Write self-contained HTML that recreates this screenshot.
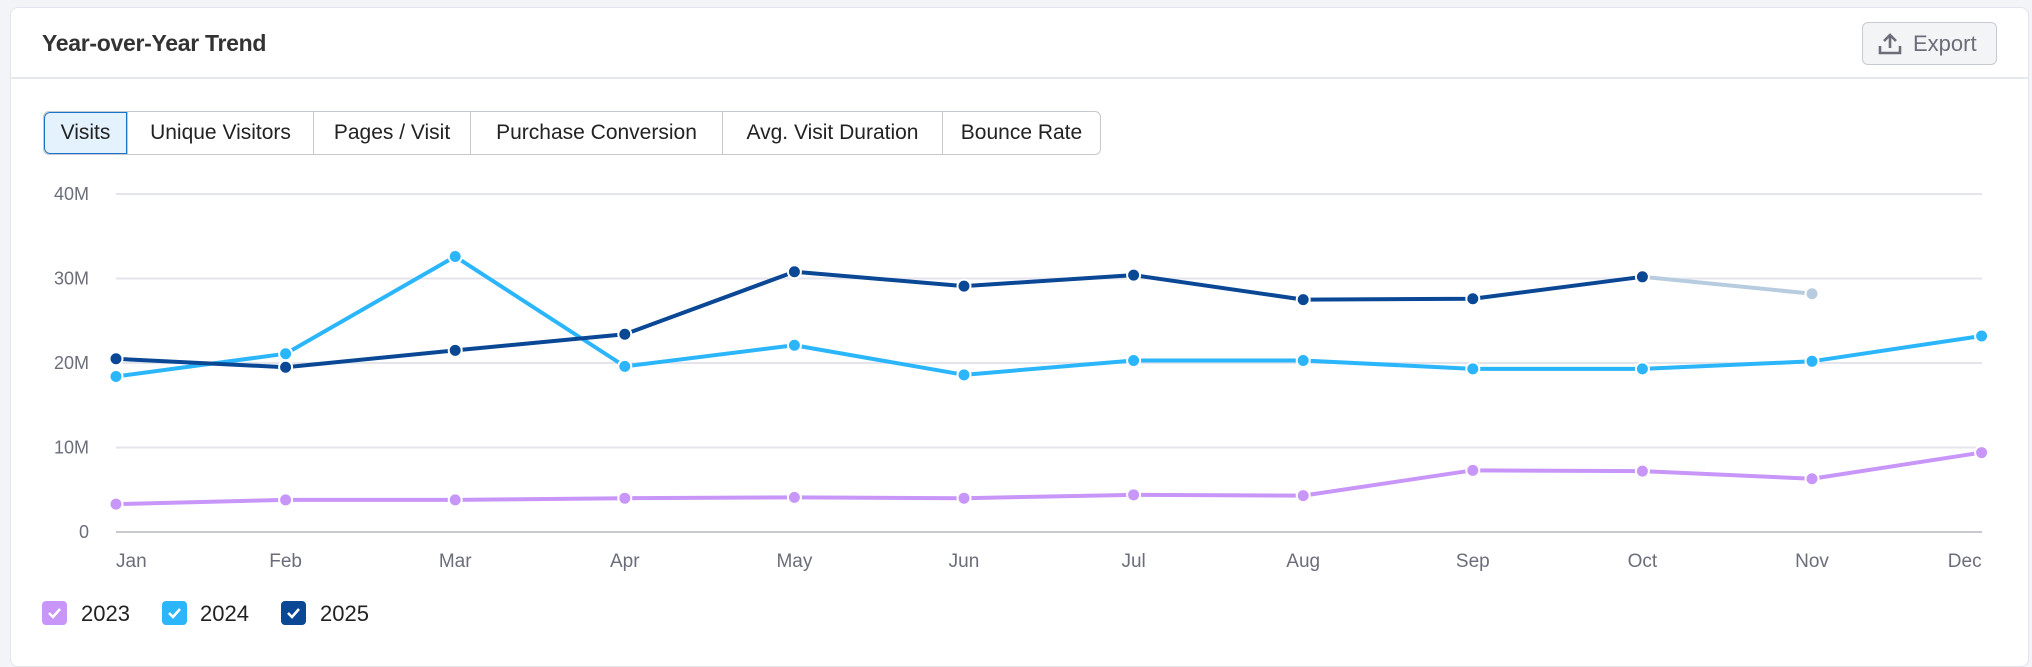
<!DOCTYPE html>
<html><head><meta charset="utf-8"><style>
*{box-sizing:border-box;margin:0;padding:0}
body{width:2032px;height:652px;background:#f3f4f8;font-family:"Liberation Sans",sans-serif;position:relative;overflow:hidden}
.card{position:absolute;left:10px;top:7px;width:2019px;height:660px;background:#fff;border:1px solid #e3e5ec;border-radius:8px}
.title{position:absolute;left:42px;top:30px;font-size:23px;font-weight:bold;color:#333;letter-spacing:-0.3px}
.div{position:absolute;left:10px;top:77px;width:2019px;height:2px;background:#e6e8ef}
.export{position:absolute;left:1862px;top:22px;width:135px;height:43px;border:1px solid #c8cad2;border-radius:6px;background:#f3f4f6;color:#6b6e7a;font-size:22px;line-height:41px;padding-left:50px}
.tabs{position:absolute;left:43px;top:111px;height:44px;display:flex;border:1px solid #c6c9d2;border-radius:6px;overflow:hidden}
.tabs div{height:42px;line-height:42px;font-size:21px;color:#222;text-align:center;border-left:1px solid #c6c9d2}
.tabs div:first-child{border-left:none;background:#e3f2fd;outline:1px solid #1a73c8;outline-offset:-1px;border-radius:6px 0 0 6px}
svg{position:absolute;left:0;top:0}
</style></head><body>
<div class="card"></div>
<div class="title">Year-over-Year Trend</div>
<div class="div"></div>
<div class="export"><svg width="26" height="24" viewBox="0 0 26 24" style="left:14px;top:9px"><path d="M13 3v13M7 9l6-6 6 6M3 14v7h20v-7" fill="none" stroke="#6b6e7a" stroke-width="2.6"/></svg>Export</div>
<div class="tabs">
<div style="width:83px">Visits</div><div style="width:186px">Unique Visitors</div><div style="width:157px">Pages / Visit</div><div style="width:252px">Purchase Conversion</div><div style="width:220px">Avg. Visit Duration</div><div style="width:158px">Bounce Rate</div>
</div>
<svg id="c" width="2032" height="652"></svg>
<script>
var s='',X=function(i){return 116+i*169.6},Y=function(v){return 532-v*8.45};
var ax=['0','10M','20M','30M','40M'];
for(var k=0;k<5;k++){var y=Y(k*10);s+='<line x1="116" x2="1982" y1="'+y+'" y2="'+y+'" stroke="'+(k?'#e4e5ec':'#c8cad0')+'" stroke-width="2"/>';s+='<text x="89" y="'+(y+6)+'" text-anchor="end" font-size="18" fill="#6b6e7a">'+ax[k]+'</text>';}
var m=['Jan','Feb','Mar','Apr','May','Jun','Jul','Aug','Sep','Oct','Nov','Dec'];
m.forEach(function(t,i){var a=i==0?'start':(i==11?'end':'middle');s+='<text x="'+X(i)+'" y="567" text-anchor="'+a+'" font-size="19" fill="#6b6e7a">'+t+'</text>';});
function ser(d,c){var p=d.map(function(v,i){return X(i)+','+Y(v)}).join(' ');s+='<polyline points="'+p+'" fill="none" stroke="'+c+'" stroke-width="4" stroke-linejoin="round"/>';}
function dots(d,c,cols){d.forEach(function(v,i){s+='<circle cx="'+X(i)+'" cy="'+Y(v)+'" r="6.5" fill="'+(cols&&cols[i]||c)+'" stroke="#fff" stroke-width="2"/>';});}
var a=[3.3,3.8,3.8,4.0,4.1,4.0,4.4,4.3,7.3,7.2,6.3,9.4];
var b=[18.4,21.1,32.6,19.6,22.1,18.6,20.3,20.3,19.3,19.3,20.2,23.2];
var c=[20.5,19.5,21.5,23.4,30.8,29.1,30.4,27.5,27.6,30.2];
ser(a,'#c896f8');ser(b,'#2bb6fb');ser(c,'#0a4795');
s+='<line x1="'+X(9)+'" y1="'+Y(30.2)+'" x2="'+X(10)+'" y2="'+Y(28.2)+'" stroke="#b8cce0" stroke-width="4"/>';
dots(a,'#c896f8');dots(b,'#2bb6fb');dots(c,'#0a4795');
s+='<circle cx="'+X(10)+'" cy="'+Y(28.2)+'" r="6.5" fill="#b8cce0" stroke="#fff" stroke-width="2"/>';
[[42,81,'#c896f8','2023'],[162,200,'#2bb6fb','2024'],[281,320,'#0a4795','2025']].forEach(function(l){
s+='<rect x="'+l[0]+'" y="601" width="25" height="24" rx="4" fill="'+l[2]+'"/>';
s+='<path d="M'+(l[0]+7)+',613 l4,4 l7,-8" fill="none" stroke="#fff" stroke-width="2.5"/>';
s+='<text x="'+l[1]+'" y="621" font-size="22" fill="#222">'+l[3]+'</text>';});
document.getElementById('c').innerHTML=s;
</script>
</body></html>
